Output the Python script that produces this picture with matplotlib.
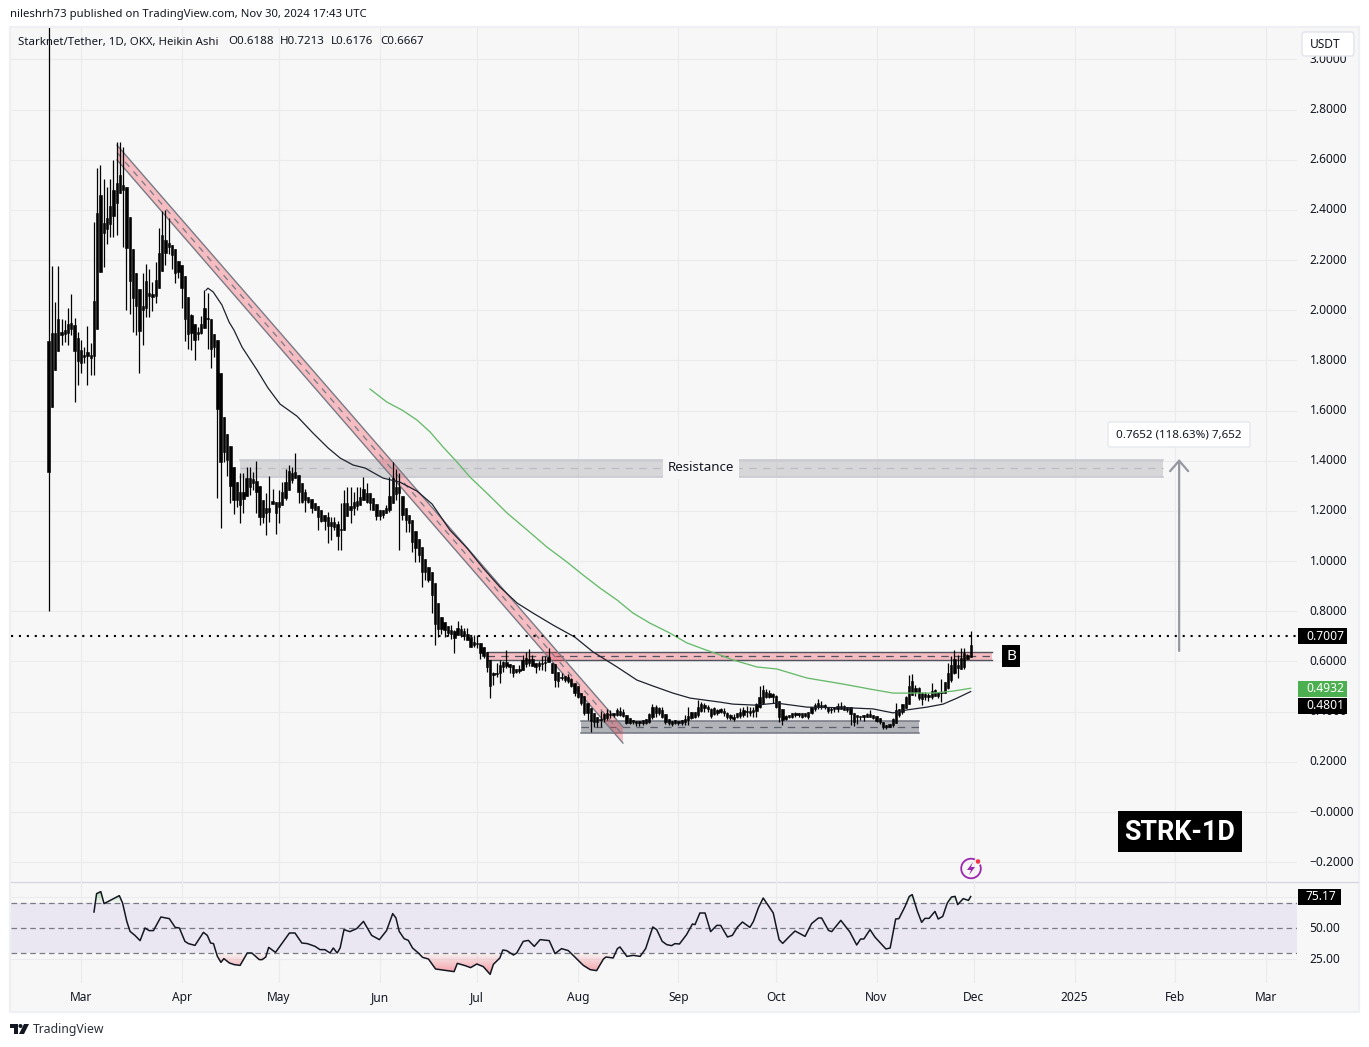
import numpy as np
import matplotlib
matplotlib.use('Agg')
import matplotlib.pyplot as plt
from matplotlib.patches import Rectangle, Polygon, Circle, FancyBboxPatch, PathPatch
from matplotlib.path import Path
from matplotlib.transforms import blended_transform_factory

plt.rcParams['font.family'] = ['Noto Sans', 'DejaVu Sans']

W, H = 1369, 1047

# Daily candles, x is days since 1 Mar 2024, first candle is 20 Feb 2024
first_day = -10
body_top = [
    1.877, 1.911, 1.911, 1.967, 1.914, 1.921, 1.947, 1.951, 1.940, 1.891,
    1.843, 1.823, 1.833, 1.823, 2.036, 2.386, 2.461, 2.346, 2.366, 2.415,
    2.479, 2.509, 2.539, 2.501, 2.491, 2.370, 2.246, 2.150, 2.083, 2.016,
    2.116, 2.067, 2.063, 2.119, 2.230, 2.299, 2.278, 2.270, 2.262, 2.243,
    2.198, 2.180, 2.136, 2.051, 1.980, 1.944, 1.914, 1.947, 2.007, 1.968,
    1.967, 1.907, 1.881, 1.748, 1.573, 1.506, 1.457, 1.376, 1.314, 1.274,
    1.274, 1.330, 1.330, 1.326, 1.320, 1.299, 1.243, 1.210, 1.210, 1.239,
    1.237, 1.234, 1.274, 1.316, 1.359, 1.350, 1.356, 1.343, 1.310, 1.274,
    1.257, 1.247, 1.230, 1.221, 1.203, 1.183, 1.177, 1.157, 1.157, 1.146,
    1.128, 1.232, 1.232, 1.221, 1.234, 1.239, 1.254, 1.286, 1.270, 1.270,
    1.250, 1.227, 1.203, 1.203, 1.210, 1.261, 1.330, 1.296, 1.296, 1.261,
    1.210, 1.183, 1.163, 1.120, 1.088, 1.056, 1.008, .976, .957, .911,
    .832, .778, .759, .741, .725, .723, .732, .728, .723, .709,
    .699, .679, .672, .672, .656, .639, .606, .555, .555, .586,
    .599, .599, .588, .586, .572, .572, .606, .612, .608, .608,
    .592, .595, .595, .596, .619, .595, .588, .557, .539, .542,
    .537, .530, .513, .502, .476, .462, .436, .413, .393, .380,
    .372, .389, .393, .390, .396, .406, .404, .400, .386, .373,
    .367, .363, .363, .367, .369, .389, .417, .417, .413, .406,
    .389, .369, .364, .367, .364, .367, .369, .383, .397, .400,
    .417, .429, .426, .420, .410, .413, .406, .409, .404, .393,
    .386, .377, .393, .400, .406, .402, .402, .406, .429, .457,
    .486, .479, .475, .470, .462, .443, .409, .382, .386, .393,
    .396, .396, .393, .393, .400, .420, .426, .433, .426, .425,
    .417, .412, .417, .424, .424, .422, .420, .417, .396, .386,
    .382, .385, .390, .390, .386, .382, .373, .360, .346, .350,
    .369, .406, .410, .430, .459, .503, .522, .495, .493, .473,
    .470, .466, .482, .486, .479, .479, .519, .556, .585, .608,
    .585, .612, .632, .625, .6667,
]
body_bot = [
    1.355, 1.615, 1.761, 1.837, 1.901, 1.907, 1.911, 1.927, 1.837, 1.797,
    1.788, 1.813, 1.817, 1.810, 1.818, 1.925, 2.153, 2.306, 2.323, 2.343,
    2.376, 2.427, 2.469, 2.479, 2.249, 2.117, 2.049, 2.016, 1.917, 2.000,
    2.007, 2.056, 2.052, 2.056, 2.089, 2.156, 2.228, 2.253, 2.220, 2.150,
    2.153, 2.089, 1.964, 1.907, 1.910, 1.881, 1.905, 1.911, 1.930, 1.964,
    1.845, 1.854, 1.608, 1.396, 1.436, 1.405, 1.300, 1.243, 1.243, 1.223,
    1.246, 1.261, 1.294, 1.310, 1.276, 1.177, 1.177, 1.193, 1.197, 1.227,
    1.193, 1.217, 1.223, 1.250, 1.283, 1.323, 1.332, 1.274, 1.237, 1.243,
    1.234, 1.210, 1.203, 1.177, 1.161, 1.161, 1.141, 1.140, 1.137, 1.100,
    1.124, 1.126, 1.180, 1.203, 1.210, 1.219, 1.223, 1.243, 1.237, 1.232,
    1.203, 1.181, 1.180, 1.183, 1.190, 1.203, 1.230, 1.266, 1.270, 1.183,
    1.164, 1.150, 1.077, 1.052, 1.024, .957, .957, .925, .865, .748,
    .729, .729, .725, .715, .709, .692, .707, .705, .701, .685,
    .659, .665, .669, .635, .622, .576, .502, .546, .550, .553,
    .579, .582, .576, .555, .559, .563, .568, .590, .592, .582,
    .576, .582, .588, .594, .596, .555, .526, .523, .535, .526,
    .523, .502, .476, .459, .433, .396, .396, .364, .360, .360,
    .366, .369, .373, .386, .386, .386, .386, .384, .356, .356,
    .357, .356, .353, .356, .356, .360, .377, .393, .393, .377,
    .360, .356, .351, .356, .356, .356, .360, .367, .373, .377,
    .387, .404, .413, .409, .382, .390, .393, .400, .393, .377,
    .373, .372, .377, .382, .386, .400, .396, .400, .404, .417,
    .433, .459, .457, .457, .417, .380, .366, .369, .377, .380,
    .386, .386, .380, .382, .377, .393, .409, .417, .417, .417,
    .404, .406, .409, .409, .409, .406, .406, .390, .360, .377,
    .377, .380, .380, .380, .373, .364, .360, .337, .337, .340,
    .346, .353, .386, .397, .413, .429, .466, .479, .453, .450,
    .459, .459, .459, .463, .463, .473, .473, .495, .526, .555,
    .575, .572, .579, .609, .6188,
]
wick_hi = [
    3.30, 2.176, 2.034, 2.176, 1.964, 1.960, 2.007, 2.063, 1.971, 1.914,
    1.881, 1.854, 1.938, 1.871, 2.350, 2.565, 2.578, 2.525, 2.492, 2.525,
    2.598, 2.671, 2.671, 2.651, 2.491, 2.370, 2.246, 2.150, 2.083, 2.150,
    2.186, 2.166, 2.113, 2.193, 2.326, 2.395, 2.399, 2.366, 2.262, 2.243,
    2.198, 2.180, 2.136, 2.051, 1.984, 1.944, 1.934, 1.976, 2.080, 2.067,
    1.967, 1.907, 1.881, 1.748, 1.573, 1.506, 1.457, 1.376, 1.314, 1.350,
    1.350, 1.376, 1.376, 1.356, 1.399, 1.299, 1.243, 1.270, 1.339, 1.286,
    1.237, 1.283, 1.316, 1.369, 1.385, 1.376, 1.432, 1.343, 1.310, 1.286,
    1.257, 1.247, 1.230, 1.221, 1.203, 1.183, 1.197, 1.177, 1.177, 1.161,
    1.230, 1.283, 1.296, 1.294, 1.276, 1.294, 1.296, 1.334, 1.310, 1.270,
    1.250, 1.227, 1.203, 1.203, 1.223, 1.336, 1.396, 1.369, 1.350, 1.261,
    1.210, 1.183, 1.163, 1.120, 1.088, 1.056, 1.008, .976, .957, .911,
    .832, .778, .759, .741, .745, .725, .761, .745, .732, .735,
    .699, .705, .705, .672, .656, .639, .606, .559, .592, .606,
    .603, .646, .588, .586, .572, .586, .626, .639, .648, .626,
    .592, .602, .622, .622, .652, .595, .588, .557, .553, .542,
    .550, .533, .513, .502, .476, .462, .436, .413, .393, .380,
    .404, .393, .410, .406, .396, .413, .420, .409, .386, .373,
    .367, .363, .363, .367, .369, .393, .430, .426, .420, .420,
    .389, .369, .364, .367, .364, .367, .387, .417, .397, .400,
    .446, .440, .433, .425, .415, .420, .410, .415, .413, .397,
    .390, .390, .396, .413, .420, .422, .420, .420, .433, .502,
    .506, .490, .486, .475, .465, .443, .409, .386, .386, .393,
    .400, .396, .393, .393, .400, .420, .433, .449, .443, .430,
    .417, .420, .417, .436, .440, .426, .420, .420, .396, .386,
    .382, .386, .396, .406, .386, .382, .373, .360, .346, .350,
    .373, .433, .410, .430, .463, .548, .552, .506, .499, .480,
    .479, .473, .516, .490, .479, .532, .519, .592, .623, .645,
    .625, .652, .652, .630, .7213,
]
wick_lo = [
    .800, 1.615, 1.761, 1.837, 1.861, 1.874, 1.861, 1.901, 1.635, 1.701,
    1.748, 1.788, 1.701, 1.741, 1.741, 1.925, 2.153, 2.173, 2.266, 2.293,
    2.293, 2.299, 2.469, 2.253, 2.000, 1.987, 1.914, 1.903, 1.748, 1.861,
    1.974, 1.974, 1.996, 2.027, 2.089, 2.156, 2.180, 2.226, 2.166, 2.107,
    2.127, 2.007, 1.877, 1.847, 1.841, 1.801, 1.881, 1.907, 1.930, 1.847,
    1.768, 1.814, 1.253, 1.133, 1.396, 1.340, 1.230, 1.188, 1.217, 1.153,
    1.190, 1.261, 1.263, 1.283, 1.193, 1.144, 1.153, 1.104, 1.157, 1.227,
    1.110, 1.153, 1.223, 1.243, 1.283, 1.310, 1.332, 1.232, 1.230, 1.197,
    1.230, 1.193, 1.203, 1.124, 1.157, 1.124, 1.073, 1.084, 1.126, 1.044,
    1.044, 1.126, 1.180, 1.150, 1.183, 1.203, 1.223, 1.243, 1.230, 1.203,
    1.203, 1.164, 1.164, 1.170, 1.190, 1.197, 1.230, 1.243, 1.044, 1.164,
    1.117, 1.117, 1.037, .996, .996, .897, .925, .915, .793, .665,
    .699, .709, .699, .701, .688, .632, .704, .699, .685, .685,
    .656, .659, .652, .608, .612, .559, .453, .506, .539, .515,
    .559, .575, .553, .539, .553, .553, .568, .579, .582, .582,
    .553, .566, .566, .563, .596, .553, .499, .499, .526, .519,
    .515, .497, .462, .453, .426, .386, .366, .320, .340, .337,
    .340, .360, .366, .373, .380, .382, .383, .378, .352, .350,
    .350, .343, .343, .347, .350, .355, .370, .380, .388, .373,
    .351, .347, .343, .350, .347, .347, .347, .347, .370, .373,
    .380, .400, .400, .400, .373, .386, .386, .393, .382, .369,
    .366, .364, .373, .373, .377, .377, .382, .380, .380, .413,
    .430, .453, .453, .436, .413, .360, .346, .366, .373, .373,
    .380, .377, .373, .377, .369, .390, .404, .409, .409, .409,
    .396, .393, .400, .400, .409, .406, .400, .346, .343, .350,
    .366, .364, .377, .377, .369, .360, .350, .329, .329, .337,
    .340, .353, .380, .390, .413, .429, .466, .463, .446, .426,
    .446, .442, .450, .463, .455, .437, .473, .490, .520, .550,
    .535, .570, .570, .609, .6176,
]

# Moving averages
ma_black_days = [38.5, 39.1, 40.7, 43.4, 45.6, 47.1, 49.6, 54.2, 57.6, 61.3, 66.5, 71.4, 76.1, 79.8, 83.8,
                 87.5, 93.0, 98.2, 103.5, 108.1, 113.6, 118.9, 123.8, 129.0, 134.3, 139.2, 145.4, 152.1,
                 157.7, 165.1, 171.2, 176.2, 182.3, 187.6, 196.8, 200.8, 207.6, 214.3, 223.6, 236.8, 243.9,
                 250.1, 254.4, 260.5, 265.5, 269.8, 274]
ma_black = [2.080, 2.088, 2.073, 2.021, 1.953, 1.921, 1.853, 1.762, 1.690, 1.626, 1.578, 1.511, 1.451, 1.411, 1.383,
            1.371, 1.331, 1.315, 1.279, 1.228, 1.124, 1.052, 0.973, 0.897, 0.833, 0.793, 0.745, 0.697,
            0.638, 0.578, 0.526, 0.502, 0.474, 0.454, 0.438, 0.430, 0.426, 0.434, 0.418, 0.415, 0.411,
            0.395, 0.407, 0.418, 0.430, 0.454, 0.4801]
ma_green_days = [89.0, 94.2, 98.9, 103.5, 107.5, 111.5, 115.8, 119.8, 125.0, 131.2, 137.4, 143.5, 149.7, 154.6,
                 159.8, 165.1, 170.0, 175.2, 181.4, 186.6, 191.6, 196.8, 200.8, 208.2, 214.3, 223.6, 234.7,
                 243.0, 250.1, 254.4, 262.4, 268.6, 274]
ma_green = [1.686, 1.634, 1.602, 1.562, 1.515, 1.455, 1.395, 1.335, 1.271, 1.192, 1.124, 1.056, 0.996, 0.945,
            0.893, 0.845, 0.793, 0.753, 0.713, 0.674, 0.650, 0.626, 0.606, 0.578, 0.570, 0.534, 0.510,
            0.490, 0.474, 0.474, 0.474, 0.482, 0.4932]

# RSI pane
rsi_days = [4.0, 4.8, 6.1, 7.1, 11.8, 12.8, 14.1, 15.1, 16.6, 18.2, 19.7, 21.0, 22.3, 24.6, 27.2, 29.0, 30.3, 32.0,
            33.1, 35.1, 37.7, 38.9, 39.9, 40.8, 42.0, 43.1, 44.0, 45.7, 47.2, 49.0, 51.2, 52.6, 54.9, 55.8, 56.9,
            57.8, 59.9, 64.2, 65.9, 68.0, 69.7, 72.1, 73.6, 75.1, 76.7, 77.7, 78.9, 79.8, 81.0, 82.8, 84.9, 87.0,
            89.5, 91.9, 94.1, 96.0, 97.0, 98.0, 99.5, 100.8, 102.1, 103.9, 105.2, 107.0, 109.2, 114.9, 115.9, 118.3,
            120.0, 121.9, 123.9, 126.0, 127.0, 129.0,
            129.9, 131.1, 133.2, 134.2, 136.2, 137.8, 139.6, 141.4, 144.2, 146.0, 148.0, 150.1, 152.1, 154.7, 156.8,
            158.8, 160.9, 161.7, 163.9, 165.2, 166.0, 168.1, 170.1, 172.2, 173.9, 176.1, 177.3, 179.0, 180.4, 181.9,
            182.9, 184.3, 186.5, 188.3, 189.1, 190.6, 192.2, 193.9, 195.8, 197.0, 199.1, 200.6, 202.1, 203.7, 206.0,
            207.1, 208.6, 210.1, 213.2, 215.0, 216.1, 218.2, 219.9, 223.0, 225.0, 227.1, 228.1, 230.2, 231.2, 234.0,
            236.8, 238.9, 240.1, 241.1, 243.0, 244.5, 247.9, 249.2, 250.9, 251.9, 253.8, 255.1, 256.0, 257.6, 258.9,
            259.9, 261.2, 263.0, 264.0, 265.4, 266.8, 268.1, 269.2, 270.0, 271.7, 273.3, 274]
rsi_vals = [62.8, 77.5, 79.1, 69.5, 75.9, 70, 55.3, 47.3, 44.1, 39.9, 50, 47.9, 47.9, 58.8, 57.5, 50.5, 50, 39.3,
            37.5, 36.1, 46.5, 44.1, 38, 37.5, 27.3, 22.5, 25.5, 22, 20.7, 20.1, 30, 30, 24.7, 24.7, 26.8,
            34.5, 30.5, 46, 46, 38, 37.5, 35.3, 32.7, 32.7, 30, 34, 30, 34, 48.7, 47.1, 49.5, 55.3,
            44.1, 40.7, 47.9, 61.5, 58, 47.3, 41.5, 40.1, 34, 30, 26.5, 25.2, 17.2, 15.1, 21.7, 19.9,
            18.3, 21.2, 19.1, 12.9, 20.9, 26,
            32.4, 31.9, 28.4, 30, 39.3, 40.1, 35.3, 40.7, 39.9, 29.5, 33.5, 31.9, 26.8, 20.1, 16.7,
            15.9, 25.2, 26.8, 26, 33.5, 34.8, 27.3, 28.1, 27.3, 33.5, 50.8, 48.7, 39.3, 36.7, 35.9,
            37.5, 37.2, 44.7, 53.2, 52.7, 62, 62, 47.1, 52.1, 52.1, 42.8, 44.1, 50.5, 54.8, 50.5,
            55.3, 66, 74, 62, 40.7, 37.7, 43.3, 47.6, 43.3, 53.5, 58, 58, 48.1, 47.1, 56.1,
            46.8, 36.4, 41.2, 41.2, 48.7, 42.8, 33.2, 34, 57.2, 57.5, 67.3, 75.3, 76.7, 63.3, 54.5,
            57.7, 57.7, 63.3, 57.2, 59.3, 70, 74.8, 75.3, 68.7, 73.5, 72.1, 75.17]

# Axis ticks
month_days = [0, 31, 61, 92, 122, 153, 184, 214, 245, 275, 306, 337, 365]
month_labels = ['Mar', 'Apr', 'May', 'Jun', 'Jul', 'Aug', 'Sep', 'Oct', 'Nov', 'Dec', '2025', 'Feb', 'Mar']
price_ticks = [-0.2, 0.0, 0.2, 0.4, 0.6, 0.8, 1.0, 1.2, 1.4, 1.6, 1.8, 2.0, 2.2, 2.4, 2.6, 2.8, 3.0]
price_labels = ['\u22120.2000', '\u22120.0000', '0.2000', '0.4000', '0.6000', '0.8000', '1.0000', '1.2000',
                '1.4000', '1.6000', '1.8000', '2.0000', '2.2000', '2.4000', '2.6000', '2.8000', '3.0000']

# Drawings on the chart: (start day, end day, low, high)
resistance_zone = (49.0, 333.2, 1.337, 1.405)
breakout_zone = (125.0, 280.6, 0.606, 0.638)
support_zone = (154.0, 258.0, 0.314, 0.364)
trend_days = (11.1, 166.9)
trend_upper = (2.658, 0.339)
trend_lower = (2.599, 0.275)
last_price = 0.7007
arrow_day = 338.2
arrow_from, arrow_to = 0.642, 1.407

TEXT = '#131722'
GRID = '#ebebee'
BG = '#f7f7f7'
GREY = '#787b86'


def px_axes(left, top, right, bottom):
    return [left / W, 1 - bottom / H, (right - left) / W, (bottom - top) / H]


fig = plt.figure(figsize=(W / 100, H / 100), dpi=100, facecolor='white')

# panel background, in pixels
bg = fig.add_axes([0, 0, 1, 1], zorder=0)
bg.set_xlim(0, W)
bg.set_ylim(H, 0)
bg.axis('off')
bg.add_patch(Rectangle((10, 27), 1349, 985, fc=BG, ec='#eef0f3', lw=1.6))
bg.plot([11, 1358], [881.5, 881.5], color='#d9d6e3', lw=1)

ax = fig.add_axes(px_axes(11, 28, 1297, 881), zorder=1, facecolor='none')
rsi_ax = fig.add_axes(px_axes(11, 881, 1297, 983), zorder=1, facecolor='none')

x_left, x_right = -21.56, 374.5

# main pane
days = np.arange(first_day, first_day + len(body_top))
top = np.array(body_top)
bot = np.array(body_bot)
assert len(top) == len(bot) == len(wick_hi) == len(wick_lo)
ax.vlines(days, wick_lo, wick_hi, color='black', lw=0.9, zorder=7)
ax.bar(days, np.maximum(top - bot, 0.004), bottom=bot, width=0.72, color='black', edgecolor='black', lw=0.4, zorder=7)

ax.plot(ma_black_days, ma_black, color='#1e222d', lw=0.9, zorder=8)
ax.plot(ma_green_days, ma_green, color='#66bb6a', lw=0.95, zorder=8)
ax.axhline(last_price, color='black', lw=1.5, ls=(0, (1, 2.8)), zorder=8)


def zone(box, fill, alpha, edge, mid, edge_lw=1.0):
    x0, x1, lo, hi = box
    ax.add_patch(Rectangle((x0, lo), x1 - x0, hi - lo, fc=fill, alpha=alpha, ec='none', zorder=5))
    ax.plot([x0, x1], [lo, lo], color=edge, lw=edge_lw, zorder=5)
    ax.plot([x0, x1], [hi, hi], color=edge, lw=edge_lw, zorder=5)
    ax.plot([x0, x1], [(lo + hi) / 2] * 2, color=mid, lw=0.9, ls=(0, (6, 5)), zorder=5)


zone(resistance_zone, GREY, 0.25, '#c9cad0', '#bcbdc3', 1.2)
zone(breakout_zone, '#f23645', 0.3, '#50535e', '#50535e')
zone(support_zone, GREY, 0.55, '#747782', '#5d606a', 1.1)

# falling trend channel
corners = [(trend_days[0], trend_upper[0]), (trend_days[1], trend_upper[1]),
           (trend_days[1], trend_lower[1]), (trend_days[0], trend_lower[0])]
ax.add_patch(Polygon(corners, closed=True, fc='#f23645', alpha=0.3, ec='none', zorder=6))
ax.plot(trend_days, trend_upper, color=GREY, lw=1.0, zorder=6)
ax.plot(trend_days, trend_lower, color=GREY, lw=1.0, zorder=6)
ax.plot(trend_days, [(trend_upper[0] + trend_lower[0]) / 2, (trend_upper[1] + trend_lower[1]) / 2],
        color=GREY, lw=0.9, ls=(0, (5, 5)), zorder=6)

ax.text((resistance_zone[0] + resistance_zone[1]) / 2 - 0.3, 1.372, 'Resistance', fontsize=9.6, color=TEXT,
        ha='center', va='center', zorder=7,
        bbox=dict(fc=BG, ec='none', pad=3.5))

ax.annotate('', xy=(arrow_day, arrow_to), xytext=(arrow_day, arrow_from), zorder=7,
            arrowprops=dict(arrowstyle='->,head_length=0.75,head_width=0.65', color='#9598a1', lw=1.6,
                            shrinkA=0, shrinkB=0))

ax.set_xlim(x_left, x_right)
ax.set_ylim(-0.275, 3.125)
ax.set_xticks(month_days)
ax.set_yticks(price_ticks)
ax.set_yticklabels(price_labels, va='center')
ax.yaxis.tick_right()
ax.tick_params(axis='y', length=0, pad=9, labelsize=8.6, labelcolor=TEXT)
ax.tick_params(axis='x', length=0, labelbottom=False)
ax.grid(True, color=GRID, lw=0.8)
ax.set_axisbelow(True)
for s in ax.spines.values():
    s.set_visible(False)

# RSI pane
rsi_ax.axhspan(30, 70, color='#ebe7f2', lw=0, zorder=1)
for lvl in (30, 50, 70):
    rsi_ax.axhline(lvl, color=GREY, lw=0.9, ls=(0, (4.5, 3)), zorder=2)
rsi_days_arr = np.array(rsi_days)
rsi_arr = np.array(rsi_vals)


def gradient(mask, limit, far, rgb):
    poly = rsi_ax.fill_between(rsi_days_arr, rsi_arr, limit, where=mask, interpolate=True, color='none', lw=0)
    grad = np.zeros((64, 2, 4))
    grad[:, :, :3] = rgb
    grad[:, :, 3] = np.linspace(0, 0.5, 64)[:, None]
    im = rsi_ax.imshow(grad, extent=(x_left, x_right, limit, far), origin='lower', aspect='auto', zorder=2)
    im.set_clip_path(PathPatch(Path.make_compound_path(*poly.get_paths()), transform=rsi_ax.transData))


gradient(rsi_arr < 30, 30, 12, (0.95, 0.21, 0.27))
gradient(rsi_arr > 70, 70, 80, (0.3, 0.69, 0.31))
rsi_ax.plot(rsi_days, rsi_vals, color=TEXT, lw=1.1, zorder=3)

rsi_ax.set_xlim(x_left, x_right)
rsi_ax.set_ylim(6, 87.6)
rsi_ax.set_xticks(month_days)
rsi_ax.set_xticklabels(month_labels)
rsi_ax.get_xticklabels()[10].set_fontweight('bold')
rsi_ax.set_yticks([25, 50, 75])
# the 75 label sits under the RSI value tag in the original
rsi_ax.set_yticklabels(['25.00', '50.00', ''], va='center')
rsi_ax.yaxis.tick_right()
rsi_ax.tick_params(axis='y', length=0, pad=9, labelsize=8.6, labelcolor=TEXT)
rsi_ax.tick_params(axis='x', length=0, pad=6, labelsize=8.6, labelcolor=TEXT)
rsi_ax.grid(True, color=GRID, lw=0.8)
rsi_ax.set_axisbelow(True)
for s in rsi_ax.spines.values():
    s.set_visible(False)

# everything above the panes, in pixels
top_ax = fig.add_axes([0, 0, 1, 1], zorder=5, facecolor='none')
top_ax.set_xlim(0, W)
top_ax.set_ylim(H, 0)
top_ax.axis('off')


def tag(axis, y_value, text, colour, right=1347):
    tr = blended_transform_factory(top_ax.transData, axis.transData)
    y_px = top_ax.transData.inverted().transform(tr.transform((0, y_value)))[1]
    top_ax.add_patch(Rectangle((1298, y_px - 8), right - 1298, 16, fc=colour, ec='none'))
    top_ax.text(1306, y_px + 0.3, text, color='white', fontsize=8.7, fontweight='medium', va='center', ha='left')


tag(ax, last_price, '0.7007', 'black')
tag(ax, 0.4921, '0.4932', '#4caf50')
tag(ax, 0.4245, '0.4801', 'black')
tag(rsi_ax, 75.17, '75.17', 'black', right=1341)

top_ax.text(10, 14.5, 'nileshrh73 published on TradingView.com, Nov 30, 2024 17:43 UTC', fontsize=8.15,
            color=TEXT, va='center')
top_ax.text(18, 42, 'Starknet/Tether, 1D, OKX, Heikin Ashi', fontsize=8.2, color=TEXT, va='center')
for x_pos, ohlc in zip((228, 280, 331, 380.5), ('O0.6188', 'H0.7213', 'L0.6176', 'C0.6667')):
    top_ax.text(x_pos, 42, ohlc, fontsize=8.3, color=TEXT, va='center')

top_ax.add_patch(FancyBboxPatch((1302, 32), 52, 24, boxstyle='round,pad=0,rounding_size=3', fc='white',
                                ec='#e0e3eb', lw=1))
top_ax.text(1310, 44.5, 'USDT', fontsize=8.6, color=TEXT, va='center')

# measure label
top_ax.add_patch(FancyBboxPatch((1108, 422), 142, 25, boxstyle='round,pad=0,rounding_size=2', fc='white',
                                ec='#e6e8ee', lw=1))
top_ax.text(1179, 435, '0.7652 (118.63%) 7,652', fontsize=8.4, color=TEXT, ha='center', va='center')

# B label and title box
top_ax.add_patch(Rectangle((1002, 645), 18, 22, fc='black', ec='none'))
top_ax.text(1011, 656, 'B', color='white', fontsize=11, fontweight='bold', ha='center', va='center')
top_ax.add_patch(Rectangle((1118, 811), 124, 41, fc='black', ec='none'))
top_ax.text(1180, 833, 'STRK-1D', color='white', fontsize=19.4, fontweight='bold', ha='center', va='center',
            family='Roboto')

# lightning icon
top_ax.add_patch(Circle((971, 868.5), 9.8, fc='none', ec='#9c27b0', lw=1.3))
top_ax.add_patch(Polygon([(973, 862), (967, 870), (971, 870), (969, 875), (975, 867), (971, 867)], closed=True,
                         fc='#9c27b0', ec='none'))
top_ax.add_patch(Circle((978, 861.5), 3, fc='#f23645', ec=BG, lw=1))

# TradingView logo
top_ax.add_patch(Polygon([(10, 1024), (18, 1024), (18, 1034), (14, 1034), (14, 1028), (10, 1028)], closed=True,
                         fc=TEXT, ec='none'))
top_ax.add_patch(Circle((20.5, 1026), 2, fc=TEXT, ec='none'))
top_ax.add_patch(Polygon([(24, 1024), (29, 1024), (24, 1034), (19, 1034)], closed=True, fc=TEXT, ec='none'))
top_ax.text(33, 1029.5, 'TradingView', fontsize=8.8, color='#2a2e39', va='center')

fig.savefig('out.png', dpi=100)
